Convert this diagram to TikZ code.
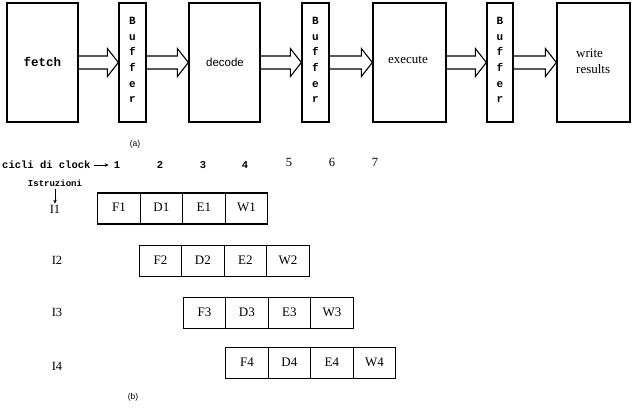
\documentclass[tikz,border=0pt]{standalone}
\usepackage{fontspec}
\setmainfont{Liberation Serif}
\newfontfamily\courfont{Liberation Mono}
\newfontfamily\arialfont{Liberation Sans}
\usetikzlibrary{calc,arrows.meta}
\tikzset{
  stagebox/.style={draw=black, line width=1.3pt, minimum height=119pt, inner sep=0pt},
  bufbox/.style={draw=black, line width=1.3pt, minimum height=119pt, minimum width=27pt, inner sep=0pt},
  buftext/.style={font=\courfont\bfseries\fontsize{11}{15.6}\selectfont, align=center, inner sep=0pt},
  hollow/.style={draw=black, line width=1.1pt, line join=miter},
  cell/.style={draw=black, line width=1.3pt, minimum width=42.5pt, minimum height=31pt, inner sep=0pt,
               font=\fontsize{13}{15}\selectfont},
  monolbl/.style={font=\courfont\bfseries\fontsize{10.5}{12}\selectfont, inner sep=0pt},
  serlbl/.style={font=\fontsize{12.5}{14}\selectfont, inner sep=0pt},
  caplbl/.style={font=\arialfont\fontsize{8.5}{10}\selectfont, inner sep=0pt},
}
\newcommand{\hollowarrow}[2]{%
  \draw[hollow] let \p1=(#1.east), \p2=(#2.west) in
    (\x1,{\y1+6.5pt}) -- ({\x2-11pt},{\y1+6.5pt}) -- ({\x2-11pt},{\y1+14pt}) -- (\x2,\y1)
    -- ({\x2-11pt},{\y1-14pt}) -- ({\x2-11pt},{\y1-6.5pt}) -- (\x1,{\y1-6.5pt});}
\begin{document}
\begin{tikzpicture}[x=1pt,y=-1pt]
\useasboundingbox[fill=white] (0,0) rectangle (642,416);
% top pipeline
\node[stagebox, minimum width=71pt] (fetch) at (42.5,62.5) {};
\node[font=\courfont\bfseries\fontsize{12.5}{14}\selectfont, inner sep=0pt] (fetchtxt) at (42.5,62) {fetch};
\node[bufbox] (buf1) at (132.5,62.5) {};
\node[buftext] (buf1t) at (132.5,60) {B\\u\\f\\f\\e\\r};
\node[stagebox, minimum width=71pt] (decode) at (224.5,62.5) {};
\node[font=\arialfont\fontsize{11.5}{13}\selectfont, inner sep=0pt] (decodetxt) at (225,62) {decode};
\node[bufbox] (buf2) at (315.5,62.5) {};
\node[buftext] (buf2t) at (315.5,60) {B\\u\\f\\f\\e\\r};
\node[stagebox, minimum width=73pt] (execute) at (409.5,62.5) {};
\node[font=\fontsize{13}{15}\selectfont, inner sep=0pt] (executetxt) at (408,60) {execute};
\node[bufbox, minimum width=26pt] (buf3) at (500,62.5) {};
\node[buftext] (buf3t) at (500,60) {B\\u\\f\\f\\e\\r};
\node[stagebox, minimum width=73pt] (write) at (593.5,62.5) {};
\node[font=\fontsize{13}{16}\selectfont, align=left, inner sep=0pt, anchor=west] (writetxt) at (576,61) {write\\results};
\hollowarrow{fetch}{buf1}
\hollowarrow{buf1}{decode}
\hollowarrow{decode}{buf2}
\hollowarrow{buf2}{execute}
\hollowarrow{execute}{buf3}
\hollowarrow{buf3}{write}
\node[caplbl] (capa) at (135,144) {(a)};
% clock header
\node[monolbl, anchor=west] (clocklbl) at (2,165) {cicli di clock};
\node[monolbl] (n1) at (117,165) {1};
\node[monolbl] (n2) at (160,165) {2};
\node[monolbl] (n3) at (203,165) {3};
\node[monolbl] (n4) at (245,165) {4};
\node[serlbl] (n5) at (289,162) {5};
\node[serlbl] (n6) at (332,162) {6};
\node[serlbl] (n7) at (375,162) {7};
\draw[line width=0.8pt, -{Stealth[length=4pt,width=3.5pt]}, shorten <=3pt, shorten >=5pt] (clocklbl.east) -- (n1.west);
\node[font=\courfont\bfseries\fontsize{9}{11}\selectfont, inner sep=0pt] (istr) at (55,183) {Istruzioni};
% instruction rows
\node[serlbl] (i1) at (55,209) {I1};
\node[serlbl] (i2) at (57,260) {I2};
\node[serlbl] (i3) at (57,312) {I3};
\node[serlbl] (i4) at (57,366) {I4};
\draw[line width=0.8pt, -{Stealth[length=4pt,width=3.5pt]}, shorten <=2pt, shorten >=1pt] (istr.south) -- (i1.north);
\foreach \r/\x/\y in {1/97/208.5, 2/138.5/261, 3/182.5/313, 4/225/363}{
  \foreach \c/\lbl in {0/F, 1/D, 2/E, 3/W}{
    \node[cell, anchor=west] (c\r\c) at ({\x+42.5*\c},\y) {\raisebox{2pt}{\lbl\r}};
  }
}
\node[caplbl] (capb) at (133,397) {(b)};
\end{tikzpicture}
\end{document}
